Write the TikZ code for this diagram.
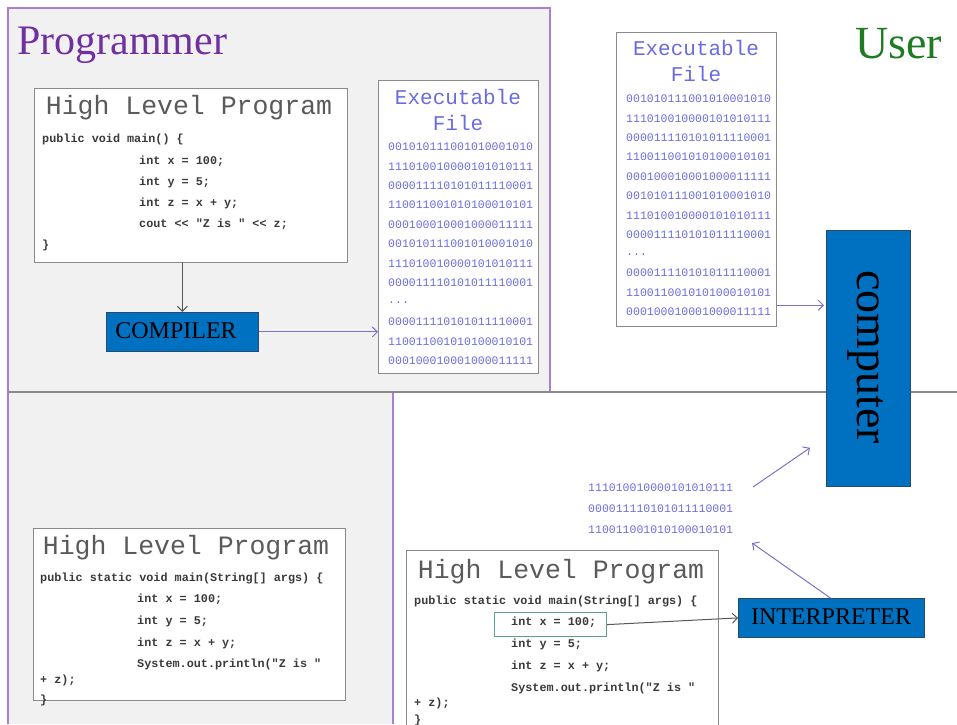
\documentclass[tikz,border=0pt]{standalone}
\usepackage{fontspec}
\setmainfont{Liberation Serif}
\newfontfamily\codefam{Liberation Mono}
\usetikzlibrary{arrows.meta}

\definecolor{panelfill}{HTML}{F1F1F1}
\definecolor{paneledge}{HTML}{A77FD3}
\definecolor{progpurple}{HTML}{7030A0}
\definecolor{usergreen}{HTML}{1E7B22}
\definecolor{boxblue}{HTML}{0070C0}
\definecolor{boxedge}{HTML}{2A4A6A}
\definecolor{bitblue}{HTML}{6B6BE0}
\definecolor{codegray}{HTML}{3A3A3A}
\definecolor{titlegray}{HTML}{5A5A5A}
\definecolor{framegray}{HTML}{8A8A8A}
\definecolor{flowblue}{HTML}{7A72C8}
\definecolor{markteal}{HTML}{5FA08A}

\tikzset{
  progbox/.style={draw=framegray, line width=1.3pt, fill=white, anchor=north west, inner sep=0pt},
  hlptitle/.style={font=\codefam\fontsize{26.5}{30}\selectfont, text=titlegray, inner sep=0pt},
  code/.style={font=\codefam\bfseries\fontsize{11.8}{14}\selectfont, text=codegray, anchor=west, inner sep=0pt},
  bits/.style={font=\codefam\fontsize{11.5}{14}\selectfont, text=bitblue, anchor=west, inner sep=0pt},
  exetitle/.style={font=\codefam\fontsize{21}{25}\selectfont, text=bitblue, align=center, inner sep=0pt},
  stage/.style={fill=boxblue, draw=boxedge, line width=0.8pt, anchor=north west, inner sep=0pt},
  stagelabel/.style={font=\fontsize{24}{28}\selectfont, text=black, inner sep=0pt},
  flow/.style={draw=flowblue, line width=1pt, -{Straight Barb[length=5pt,width=10pt]}},
  feed/.style={draw=codegray!85, line width=1pt, -{Straight Barb[length=5pt,width=10pt]}},
}

\begin{document}
\begin{tikzpicture}[x=1pt,y=-1pt]
\useasboundingbox (0,0) rectangle (957,724);

% panels
\fill[panelfill] (8,8) rectangle (550,392);
\fill[panelfill] (8,392) rectangle (393,724);
\draw[paneledge, line width=1.2pt] (8,724) -- (8,8) -- (550,8) -- (550,392) -- (393,392) -- (393,724);
\draw[framegray, line width=1.5pt] (8,392) -- (957,392);

% headings
\node[font=\fontsize{42}{46}\selectfont, text=progpurple, anchor=west, inner sep=0pt] (progtitle) at (17,45) {Programmer};
\node[font=\fontsize{46}{50}\selectfont, text=usergreen, anchor=west, inner sep=0pt] (usertitle) at (855,44) {User};

% compiled program
\node[progbox, minimum width=313pt, minimum height=174pt] (hlp1) at (34,88) {};
\node[hlptitle] (hlp1title) at (189,108) {High Level Program};
\node[code] (a1) at (42,139) {public void main() \{};
\node[code] (a2) at (139,161) {int x = 100;};
\node[code] (a3) at (139,182) {int y = 5;};
\node[code] (a4) at (139,203) {int z = x + y;};
\node[code] (a5) at (139,224) {cout << "Z is " << z;};
\node[code] (a6) at (42,245) {\}};

\node[stage, minimum width=152pt, minimum height=39pt] (compiler) at (106,312) {};
\node[stagelabel] (compilerlabel) at (176,331) {COMPILER};

% executable file, programmer side
\node[progbox, minimum width=160pt, minimum height=293pt] (exe1) at (378,80) {};
\node[exetitle] (exe1title) at (458,110) {Executable\\[1pt]File};
\foreach \i/\s in {0/001010111001010001010, 1/111010010000101010111, 2/000011110101011110001,
                   3/110011001010100010101, 4/000100010001000011111, 5/001010111001010001010,
                   6/111010010000101010111, 7/000011110101011110001}
  \node[bits] (e1b\i) at (388,147+19.4*\i) {\s};
\node[bits] (e1dots) at (388,303) {...};
\foreach \i/\s in {0/000011110101011110001, 1/110011001010100010101, 2/000100010001000011111}
  \node[bits] (e1c\i) at (388,322+19.4*\i) {\s};

\draw[feed] (hlp1.south -| compiler.north) -- (compiler.north);
\draw[flow] (compiler.east) -- (compiler.east -| exe1.west);

% executable file, user side
\node[progbox, minimum width=160pt, minimum height=294pt] (exe2) at (616,32) {};
\node[exetitle] (exe2title) at (696,61) {Executable\\[1pt]File};
\foreach \i/\s in {0/001010111001010001010, 1/111010010000101010111, 2/000011110101011110001,
                   3/110011001010100010101, 4/000100010001000011111, 5/001010111001010001010,
                   6/111010010000101010111, 7/000011110101011110001}
  \node[bits] (e2b\i) at (626,99+19.4*\i) {\s};
\node[bits] (e2dots) at (626,255) {...};
\foreach \i/\s in {0/000011110101011110001, 1/110011001010100010101, 2/000100010001000011111}
  \node[bits] (e2c\i) at (626,273+19.2*\i) {\s};

% computer
\node[stage, minimum width=84pt, minimum height=256pt] (computer) at (826,230) {};
\node[font=\fontsize{46}{50}\selectfont, rotate=-90, inner sep=0pt] (computerlabel) at (866,357) {computer};

\draw[flow, shorten >=2pt] ([yshift=22pt]exe2.south east) -- ([yshift=22pt]exe2.south east -| computer.west);

% program for the interpreter
\node[progbox, minimum width=312pt, minimum height=172pt] (hlp2) at (33,528) {};
\node[hlptitle] (hlp2title) at (186,548) {High Level Program};
\node[code] (b1) at (40,578) {public static void main(String[] args) \{};
\node[code] (b2) at (137,599) {int x = 100;};
\node[code] (b3) at (137,621) {int y = 5;};
\node[code] (b4) at (137,643) {int z = x + y;};
\node[code] (b5) at (137,664) {System.out.println("Z is "};
\node[code] (b6) at (40,680) {+ z);};
\node[code] (b7) at (40,700) {\}};

\node[progbox, minimum width=312pt, minimum height=180pt] (hlp3) at (406,550) {};
\node[hlptitle] (hlp3title) at (561,572) {High Level Program};
\node[code] (c1) at (414,601) {public static void main(String[] args) \{};
\node[draw=markteal, line width=1.2pt, anchor=north west, minimum width=112pt, minimum height=24pt, inner sep=0pt] (mark) at (494,612) {};
\node[code] (c2) at (511,622) {int x = 100;};
\node[code] (c3) at (511,644) {int y = 5;};
\node[code] (c4) at (511,666) {int z = x + y;};
\node[code] (c5) at (511,688) {System.out.println("Z is "};
\node[code] (c6) at (414,703) {+ z);};
\node[code] (c7) at (414,720) {\}};

% interpreter and the bits it emits
\node[stage, minimum width=186pt, minimum height=39pt] (interp) at (738,598) {};
\node[stagelabel] (interplabel) at (831,617) {INTERPRETER};

\node[bits] (r0) at (588,488) {111010010000101010111};
\node[bits] (r1) at (588,509) {000011110101011110001};
\node[bits] (r2) at (588,530) {110011001010100010101};

\coordinate (bitsout) at (753,487);
\coordinate (bitsin) at (752,543);

\draw[feed] (mark.east) -- (interp.west);
\draw[flow] ([xshift=-1pt]interp.north) -- (bitsin);
\draw[flow] (bitsout) -- ([xshift=-16pt,yshift=39pt]computer.south west);
\end{tikzpicture}
\end{document}
